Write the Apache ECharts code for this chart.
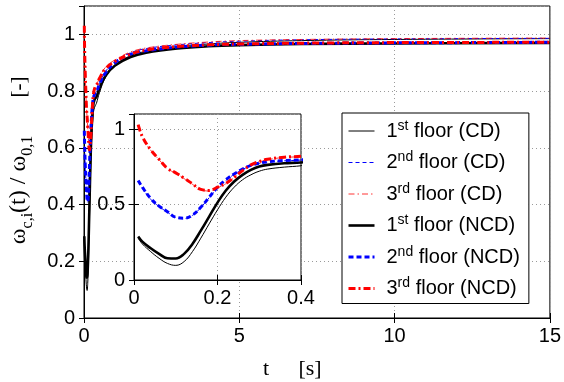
<!DOCTYPE html>
<html>
<head>
<meta charset="utf-8">
<script src="https://cdn.jsdelivr.net/npm/echarts@6/dist/echarts.min.js"></script>
<style>
html,body{margin:0;padding:0;background:#fff;}
#c{width:564px;height:382px;}
</style>
</head>
<body>
<div id="c"></div>
<script>
// time [s]
const time = [0.01,0.02,0.04,0.06,0.08,0.10,0.12,0.14,0.16,0.18,0.20,0.22,0.24,0.26,0.28,0.30,0.32,0.36,0.40,0.5,0.7,1.0,1.5,2,3,4,5,7,10,15];
const cd1  = [0.277,0.239,0.188,0.144,0.11,0.097,0.122,0.188,0.277,0.372,0.465,0.549,0.615,0.664,0.697,0.721,0.735,0.748,0.757,0.795,0.85,0.89,0.925,0.94,0.957,0.966,0.972,0.978,0.982,0.985];
const cd2  = [0.655,0.61,0.535,0.487,0.45,0.414,0.408,0.428,0.48,0.545,0.612,0.66,0.70,0.732,0.757,0.772,0.781,0.79,0.795,0.828,0.87,0.905,0.935,0.95,0.963,0.971,0.976,0.981,0.984,0.986];
const cd3  = [1.02,0.945,0.86,0.797,0.738,0.707,0.672,0.634,0.598,0.59,0.612,0.638,0.678,0.722,0.76,0.783,0.798,0.812,0.818,0.848,0.885,0.91,0.938,0.952,0.965,0.973,0.978,0.982,0.985,0.987];
const ncd1 = [0.288,0.254,0.21,0.173,0.144,0.142,0.173,0.239,0.327,0.42,0.513,0.593,0.653,0.697,0.73,0.752,0.763,0.774,0.779,0.81,0.855,0.89,0.92,0.935,0.95,0.958,0.962,0.966,0.968,0.97];
const ncd2 = [0.66,0.615,0.54,0.49,0.453,0.416,0.41,0.43,0.482,0.548,0.615,0.664,0.703,0.735,0.76,0.774,0.783,0.792,0.796,0.825,0.865,0.90,0.93,0.942,0.955,0.962,0.965,0.968,0.97,0.972];
const ncd3 = [1.03,0.95,0.863,0.80,0.74,0.71,0.675,0.637,0.60,0.593,0.615,0.64,0.68,0.725,0.763,0.785,0.80,0.814,0.82,0.845,0.88,0.905,0.93,0.945,0.957,0.963,0.966,0.969,0.971,0.972];
const seriesNames = ['1st floor (CD)','2nd floor (CD)','3rd floor (CD)','1st floor (NCD)','2nd floor (NCD)','3rd floor (NCD)'];
const seriesValues = [cd1, cd2, cd3, ncd1, ncd2, ncd3];

const styles = [
  {color:'#000000', width:1,   type:'solid'},
  {color:'#0000ff', width:1,   type:[4,3]},
  {color:'#ff0000', width:0.8, type:[6,3,1.5,3]},
  {color:'#000000', width:2.6, type:'solid'},
  {color:'#0000ff', width:3,   type:[5,3]},
  {color:'#ff0000', width:3,   type:[7,3,2,3]}
];

const sansFont = 'Liberation Sans';
const labelStyle = {color:'#000', fontFamily:sansFont, fontSize:20};
const gridLine = {show:true, lineStyle:{color:'#9a9a9a', type:[1,3], width:1}};

function mkAxis(o){
  return Object.assign({
    type:'value',
    axisLine:{show:true, lineStyle:{color:'#000', width:1}},
    axisTick:{show:true, inside:true, length:5, lineStyle:{color:'#000'}},
    axisLabel:Object.assign({showMaxLabel:false}, labelStyle),
    splitLine:gridLine
  }, o);
}
function hiddenAxis(o){
  return Object.assign({
    type:'value',
    axisLine:{show:false},
    axisTick:{show:true, inside:true, length:5, lineStyle:{color:'#000'}},
    axisLabel:{show:false},
    splitLine:{show:false}
  }, o);
}

const series = [];
seriesValues.forEach((vals, i) => {
  const d = time.map((tt, k) => [tt, vals[k]]);
  const ls = styles[i];
  series.push({
    name: seriesNames[i], type:'line', data:d, xAxisIndex:0, yAxisIndex:0,
    symbol:'none', smooth:0.4, z:2,
    lineStyle:{color:ls.color, width:ls.width, type:ls.type}, itemStyle:{color:ls.color}
  });
  series.push({
    name: seriesNames[i], type:'line', data:d, xAxisIndex:2, yAxisIndex:2,
    symbol:'none', smooth:0.4, z:6, clip:true,
    lineStyle:{color:ls.color, width:ls.width, type:ls.type}, itemStyle:{color:ls.color}
  });
});

const chart = echarts.init(document.getElementById('c'), null, {renderer:'canvas'});
chart.setOption({
  animation:false,
  backgroundColor:'#fff',
  grid:[
    {left:84, top:6, width:469, height:312, show:true, borderColor:'#000', borderWidth:1, backgroundColor:'transparent', z:0},
    {left:134, top:114, width:167, height:166, show:true, borderColor:'#000', borderWidth:1, backgroundColor:'#fff', z:3}
  ],
  xAxis:[
    mkAxis({gridIndex:0, min:0, max:15, interval:5, position:'bottom', axisLabel:Object.assign({margin:8}, labelStyle)}),
    hiddenAxis({gridIndex:0, min:0, max:15, interval:5, position:'top'}),
    mkAxis({gridIndex:1, min:0, max:0.4, interval:0.2, position:'bottom', z:4, axisLabel:Object.assign({margin:8}, labelStyle)}),
    hiddenAxis({gridIndex:1, min:0, max:0.4, interval:0.2, position:'top', z:4})
  ],
  yAxis:[
    mkAxis({gridIndex:0, min:0, max:1.1, interval:0.2, position:'left', axisLabel:Object.assign({margin:9, showMaxLabel:false}, labelStyle)}),
    hiddenAxis({gridIndex:0, min:0, max:1.1, interval:0.2, position:'right'}),
    mkAxis({gridIndex:1, min:0, max:1.1, interval:0.5, position:'left', z:4, axisLabel:Object.assign({margin:9, showMaxLabel:false}, labelStyle)}),
    hiddenAxis({gridIndex:1, min:0, max:1.1, interval:0.5, position:'right', z:4})
  ],
  legend:{
    data:seriesNames.map((n, i) => ({name:n, lineStyle:{width:styles[i].width, type:styles[i].type, color:styles[i].color}})),
    orient:'vertical',
    left:342, top:113,
    padding:[6,9,3,5],
    itemWidth:26, itemHeight:14, itemGap:7.5,
    backgroundColor:'#fff', borderColor:'#000', borderWidth:1, borderRadius:0,
    itemStyle:{opacity:0},
    z:10,
    textStyle:{color:'#000', fontFamily:sansFont, fontSize:20, lineHeight:24, padding:[0,0,0,7],
      rich:{sup:{fontFamily:sansFont, fontSize:14, lineHeight:14, verticalAlign:'top', color:'#000'}}},
    formatter:function(name){ return name.replace(/^(\d)(st|nd|rd)/, '$1{sup|$2}'); }
  },
  graphic:[
    {type:'text', x:19, y:190, rotation:Math.PI/2, z:20,
      style:{text:'ω{sub|c,i}(t) / ω{sub|0,1}', fontFamily:'Liberation Serif', fontSize:24, lineHeight:34,
        fill:'#000', align:'center', verticalAlign:'middle',
        rich:{sub:{fontFamily:'Liberation Serif', fontSize:16, lineHeight:16, verticalAlign:'bottom', fill:'#000'}}}},
    {type:'text', x:19, y:87, rotation:Math.PI/2, z:20,
      style:{text:'[-]', fontFamily:'Liberation Serif', fontSize:21, fill:'#000', align:'center', verticalAlign:'middle'}},
    {type:'text', x:266, y:369, z:20,
      style:{text:'t', fontFamily:'Liberation Serif', fontSize:22, fill:'#000', align:'center', verticalAlign:'middle'}},
    {type:'text', x:310, y:369, z:20,
      style:{text:'[s]', fontFamily:'Liberation Serif', fontSize:22, fill:'#000', align:'center', verticalAlign:'middle'}}
  ],
  series:series
});
</script>
</body>
</html>
